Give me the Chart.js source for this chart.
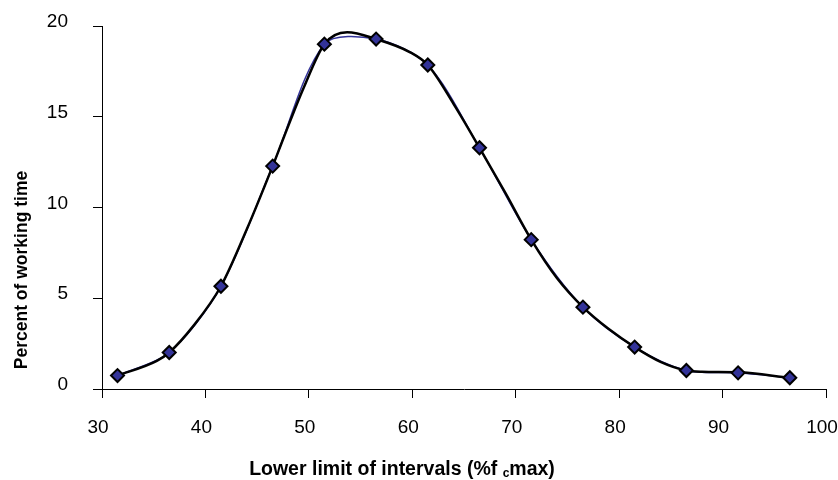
<!DOCTYPE html>
<html>
<head>
<meta charset="utf-8">
<script src="https://cdn.jsdelivr.net/npm/chart.js@4"></script>
<style>
  html, body { margin: 0; padding: 0; background: #fff; }
  canvas { display: block; }
</style>
</head>
<body>
<canvas id="chart" width="838" height="480"></canvas>
<script>
// interval lower limits (%fc max) and share of working time
const intervals = [31.5, 36.5, 41.5, 46.5, 51.5, 56.5, 61.5, 66.5, 71.5, 76.5, 81.5, 86.5, 91.5, 96.5];
const percentTime = [0.74, 2.01, 5.66, 12.28, 19.0, 19.28, 17.85, 13.29, 8.23, 4.51, 2.31, 1.02, 0.89, 0.62];

// smoothed (black) curve
const smoothX = [31.5, 35.3, 36.5, 38.8, 41.5, 44, 46.5, 47.6, 49.5, 51.5, 53.7, 56.5, 59.8, 61.5, 64, 66.5, 69, 71.5, 74, 76.5, 79, 81.5, 84, 86.5, 88, 91.5, 96.5];
const smoothY = [0.74, 1.55, 2.01, 3.45, 5.66, 8.8, 12.28, 13.9, 16.6, 19.0, 19.65, 19.28, 18.55, 17.85, 15.7, 13.29, 10.8, 8.23, 6.1, 4.51, 3.3, 2.31, 1.5, 1.02, 0.95, 0.92, 0.62];

const xTicks = [30, 40, 50, 60, 70, 80, 90, 100];
const yTicks = [0, 5, 10, 15, 20];

const xTitle = ['Lower limit of intervals (%f ', 'c', 'max)'];
const yTitle = 'Percent of working time';

const toPoints = (xs, ys) => xs.map((x, i) => ({ x: x, y: ys[i] }));

const axisTitles = {
  id: 'axisTitles',
  afterDraw(chart) {
    const ctx = chart.ctx;
    const area = chart.chartArea;
    ctx.save();
    ctx.fillStyle = '#000';
    ctx.textBaseline = 'alphabetic';

    // x title with a subscript c
    const big = 'bold 19.5px "Liberation Sans", Arial, sans-serif';
    const small = 'bold 12px "Liberation Sans", Arial, sans-serif';
    ctx.font = big;
    const w0 = ctx.measureText(xTitle[0]).width;
    const w2 = ctx.measureText(xTitle[2]).width;
    ctx.font = small;
    const w1 = ctx.measureText(xTitle[1]).width;
    const total = w0 + w1 + w2;
    let x = area.left + 300 - total / 2;
    const base = area.bottom + 86;
    ctx.textAlign = 'left';
    ctx.font = big;
    ctx.fillText(xTitle[0], x, base);
    x += w0;
    ctx.font = small;
    ctx.fillText(xTitle[1], x, base + 2);
    x += w1;
    ctx.font = big;
    ctx.fillText(xTitle[2], x, base);

    // y title, rotated
    ctx.translate(22, area.bottom - 119);
    ctx.rotate(-Math.PI / 2);
    ctx.textAlign = 'center';
    ctx.textBaseline = 'middle';
    ctx.font = 'bold 17.5px "Liberation Sans", Arial, sans-serif';
    ctx.fillText(yTitle, 0, 0);
    ctx.restore();
  }
};

new Chart(document.getElementById('chart'), {
  type: 'scatter',
  data: {
    datasets: [
      {
        label: 'data line',
        data: toPoints(intervals, percentTime),
        showLine: true,
        borderColor: '#333399',
        borderWidth: 1.5,
        pointRadius: 0,
        tension: 0.3,
        order: 3
      },
      {
        label: 'smooth',
        data: toPoints(smoothX, smoothY),
        showLine: true,
        borderColor: '#000',
        borderWidth: 2.5,
        pointRadius: 0,
        cubicInterpolationMode: 'monotone',
        order: 2
      },
      {
        label: 'points',
        data: toPoints(intervals, percentTime),
        showLine: false,
        pointStyle: 'rectRot',
        pointRadius: 6.5,
        pointBackgroundColor: '#333399',
        pointBorderColor: '#000',
        pointBorderWidth: 2,
        order: 1
      }
    ]
  },
  options: {
    responsive: false,
    animation: false,
    events: [],
    layout: { padding: { top: 26, right: 12, left: 0, bottom: 0 } },
    plugins: {
      legend: { display: false },
      tooltip: { enabled: false }
    },
    scales: {
      x: {
        type: 'linear',
        min: 30,
        max: 100,
        afterBuildTicks: (s) => { s.ticks = xTicks.map(v => ({ value: v })); },
        afterFit: (s) => { s.height = 91; s.paddingLeft = 0; s.paddingRight = 0; },
        border: { color: '#000', width: 1 },
        grid: { drawOnChartArea: false, color: '#000', tickLength: 9 },
        ticks: {
          color: '#000',
          padding: 18,
          labelOffset: -4,
          maxRotation: 0,
          font: { family: '"Liberation Sans", Arial, sans-serif', size: 19 }
        }
      },
      y: {
        type: 'linear',
        min: 0,
        max: 20,
        afterBuildTicks: (s) => { s.ticks = yTicks.map(v => ({ value: v })); },
        afterFit: (s) => { s.width = 102; s.paddingTop = 0; s.paddingBottom = 0; },
        border: { color: '#000', width: 1 },
        grid: { drawOnChartArea: false, color: '#000', tickLength: 9 },
        ticks: {
          color: '#000',
          padding: 25,
          labelOffset: -4,
          font: { family: '"Liberation Sans", Arial, sans-serif', size: 19 }
        }
      }
    }
  },
  plugins: [axisTitles]
});
</script>
</body>
</html>
